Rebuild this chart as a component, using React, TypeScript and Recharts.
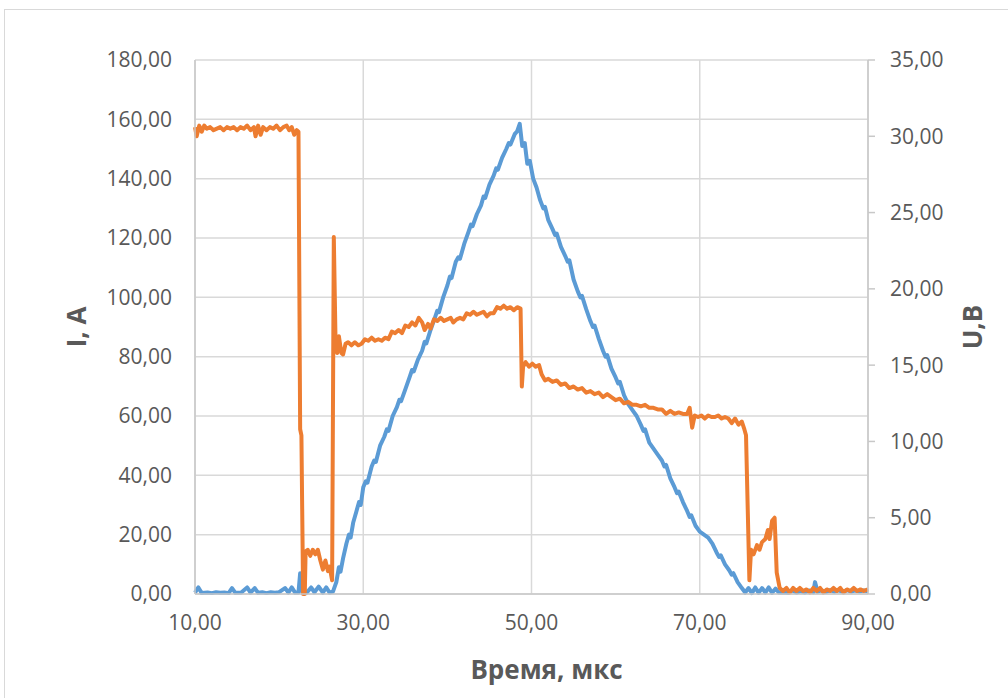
import { LineChart, Line, XAxis, YAxis, CartesianGrid, Label } from 'recharts';

// time (мкс), current (A) — left axis
const currentPts: [number, number][] = [
  [10, 0.5], [10.4, 2.2], [10.8, 0.3], [11.5, 0.5], [12, 0.3], [12.5, 0.6], [13, 0.4], [13.5, 0.5],
  [14, 0.3], [14.4, 2.0], [14.8, 0.4], [15.5, 0.5], [16.2, 2.2], [16.6, 0.5], [17.1, 2.0], [17.5, 0.4],
  [18, 0.6], [18.5, 0.3], [19, 0.6], [19.5, 0.4], [20, 0.6], [20.7, 2.0], [21.1, 0.5], [21.5, 2.2],
  [21.9, 0.5], [22.3, 0.5], [22.5, 7.0], [22.8, 0.4], [23.3, 0.5], [23.8, 2.2], [24.2, 0.6], [24.7, 2.5],
  [25.2, 0.5], [25.6, 2.2], [26.0, 0.5], [26.4, 0.8], [26.8, 4], [27.1, 9], [27.3, 7.5], [27.6, 12],
  [28, 17], [28.3, 20], [28.5, 19], [28.8, 24], [29.2, 28], [29.5, 31], [29.7, 30], [30, 36], [30.3, 38],
  [30.5, 37.5], [31, 43], [31.3, 45], [31.5, 44.5], [32, 50], [32.5, 53], [32.8, 55.5], [33, 55],
  [33.5, 60], [34, 63], [34.3, 65.5], [34.5, 65], [35, 69], [35.5, 73], [35.8, 75.5], [36, 75], [36.5, 79],
  [37, 82], [37.3, 85], [37.5, 84.5], [38, 89], [38.5, 93], [38.8, 95.5], [39, 95], [39.5, 100],
  [40, 104], [40.3, 107], [40.5, 106.5], [41, 112], [41.3, 113.5], [41.5, 113], [42, 118], [42.5, 122],
  [42.8, 124.5], [43, 124], [43.5, 128], [44, 131], [44.3, 134], [44.5, 133.5], [45, 138], [45.5, 141],
  [45.8, 143.5], [46, 143], [46.5, 147], [47, 150], [47.3, 152], [47.5, 151.5], [48, 155], [48.3, 156],
  [48.6, 158.5], [48.9, 151], [49.2, 152], [49.5, 145], [49.8, 146], [50.2, 140], [50.6, 137], [51, 133],
  [51.4, 130], [51.6, 130.5], [52, 126], [52.5, 123], [52.8, 121], [53, 121.5], [53.5, 117], [54, 114],
  [54.3, 112], [54.5, 112.5], [55, 106], [55.5, 102], [55.8, 100], [56, 100.5], [56.5, 96], [57, 92],
  [57.3, 90], [57.5, 90.5], [58, 86], [58.5, 82], [58.8, 80], [59, 80.5], [59.5, 76], [60, 73],
  [60.3, 71], [60.5, 71.5], [61, 67], [61.5, 64], [62, 62], [62.5, 60], [63, 57], [63.3, 55], [63.5, 55.5],
  [64, 51], [64.5, 49], [65, 47], [65.5, 45], [65.8, 43], [66, 43.5], [66.5, 39], [67, 36], [67.3, 34],
  [67.5, 34.5], [68, 31], [68.5, 28], [68.8, 26], [69, 26.5], [69.5, 23], [70, 21], [70.5, 20], [71, 19],
  [71.5, 17], [72, 14], [72.3, 12.5], [72.5, 13], [73, 10], [73.5, 8], [73.8, 6.5], [74, 7], [74.5, 4],
  [75, 2], [75.4, 0.5], [75.8, 2.0], [76.2, 0.3], [76.6, 2.2], [77, 0.4], [77.4, 2.0], [77.8, 0.5],
  [78.2, 2.2], [78.6, 0.4], [79, 1.8], [79.4, 0.5], [80, 0.6], [80.5, 0.4], [81, 1.2], [81.5, 0.5],
  [82, 1.0], [82.5, 0.5], [83, 1.2], [83.5, 0.6], [83.7, 4.0], [84, 0.8], [84.5, 1.2], [85, 0.7],
  [85.5, 1.3], [86, 0.8], [86.5, 1.2], [87, 0.7], [87.5, 1.3], [88, 0.8], [88.5, 1.2], [89, 0.9],
  [89.5, 1.2], [90, 0.9],
];

// time (мкс), voltage (B) — right axis
const voltagePts: [number, number][] = [
  [10, 30.6], [10.2, 30.0], [10.5, 30.7], [10.8, 30.3], [11.1, 30.7], [11.4, 30.5], [11.8, 30.6],
  [12.2, 30.4], [12.6, 30.5], [13, 30.6], [13.4, 30.4], [13.8, 30.6], [14.2, 30.5], [14.6, 30.6],
  [15, 30.4], [15.4, 30.6], [15.8, 30.5], [16.2, 30.7], [16.6, 30.4], [17, 30.6], [17.2, 30.0],
  [17.5, 30.7], [17.8, 30.1], [18.1, 30.6], [18.5, 30.4], [18.9, 30.6], [19.3, 30.5], [19.7, 30.7],
  [20.1, 30.4], [20.5, 30.6], [20.9, 30.7], [21.2, 30.4], [21.5, 30.6], [21.8, 30.1], [22.1, 30.4],
  [22.3, 30.3], [22.5, 10.8], [22.65, 10.4], [22.85, 0], [23.05, 0], [23.15, 2.8], [23.4, 2.9],
  [23.7, 2.5], [24.0, 2.9], [24.3, 2.6], [24.6, 2.9], [24.9, 2.2], [25.2, 1.6], [25.5, 2.2], [25.8, 1.5],
  [26.0, 1.8], [26.3, 0.9], [26.5, 23.4], [26.7, 16.8], [26.9, 15.8], [27.1, 16.9], [27.4, 15.8],
  [27.6, 15.7], [27.9, 16.4], [28.2, 16.5], [28.6, 16.3], [29, 16.5], [29.4, 16.3], [29.8, 16.4],
  [30.2, 16.7], [30.6, 16.6], [31, 16.8], [31.4, 16.6], [31.8, 16.7], [32.2, 16.6], [32.6, 16.8],
  [33, 16.7], [33.4, 17.2], [33.8, 17.1], [34.2, 17.3], [34.6, 17.1], [35, 17.6], [35.4, 17.5],
  [35.8, 17.8], [36.2, 17.6], [36.6, 18.1], [37, 17.8], [37.3, 17.3], [37.7, 17.7], [38, 17.4],
  [38.4, 18.0], [38.8, 17.9], [39.2, 18.1], [39.6, 17.9], [40, 18.0], [40.4, 18.1], [40.7, 17.8],
  [41.1, 18.0], [41.5, 18.1], [41.9, 18.0], [42.3, 18.4], [42.7, 18.3], [43.1, 18.5], [43.5, 18.3],
  [43.9, 18.4], [44.3, 18.5], [44.7, 18.2], [45.1, 18.4], [45.5, 18.4], [45.9, 18.8], [46.3, 18.7],
  [46.7, 18.9], [47.1, 18.7], [47.5, 18.8], [47.9, 18.6], [48.3, 18.8], [48.7, 18.7], [48.85, 13.6],
  [49.0, 14.9], [49.3, 15.2], [49.7, 14.9], [50.1, 15.1], [50.5, 14.9], [50.9, 15.0], [51.2, 14.4],
  [51.6, 14.0], [52, 14.1], [52.5, 13.9], [53, 14.0], [53.5, 13.7], [54, 13.8], [54.5, 13.5], [55, 13.6],
  [55.5, 13.4], [56, 13.5], [56.5, 13.2], [57, 13.3], [57.5, 13.1], [58, 13.2], [58.5, 12.9], [59, 13.1],
  [59.5, 12.9], [60, 12.7], [60.5, 12.8], [61, 12.5], [61.5, 12.6], [62, 12.4], [62.5, 12.4], [63, 12.3],
  [63.5, 12.4], [64, 12.2], [64.5, 12.2], [65, 12.1], [65.5, 12.1], [66, 11.8], [66.5, 12.0], [67, 11.8],
  [67.5, 11.9], [68, 11.8], [68.5, 11.8], [68.8, 12.2], [69.1, 10.9], [69.4, 11.7], [69.8, 11.6],
  [70.2, 11.7], [70.6, 11.5], [71, 11.7], [71.4, 11.6], [71.8, 11.6], [72.2, 11.7], [72.6, 11.5],
  [73, 11.6], [73.4, 11.5], [73.8, 11.2], [74.2, 11.5], [74.6, 11.1], [75, 11.3], [75.3, 10.8],
  [75.5, 10.4], [75.9, 0.9], [76.1, 2.9], [76.4, 2.6], [76.8, 3.2], [77.1, 2.9], [77.4, 3.4], [77.8, 3.6],
  [78.1, 4.2], [78.3, 3.6], [78.6, 4.8], [78.9, 5.0], [79.15, 1.4], [79.5, 0.4], [79.9, 0.2], [80.3, 0.4],
  [80.7, 0.1], [81.1, 0.4], [81.5, 0.2], [81.9, 0.4], [82.3, 0.2], [82.7, 0.3], [83.1, 0.1], [83.5, 0.4],
  [83.9, 0.2], [84.3, 0.4], [84.7, 0.1], [85.1, 0.3], [85.5, 0.2], [85.9, 0.4], [86.3, 0.2], [86.7, 0.4],
  [87.1, 0.1], [87.5, 0.3], [87.9, 0.2], [88.3, 0.4], [88.7, 0.2], [89.1, 0.3], [89.5, 0.2], [90, 0.3],
];

const xTicks = [10, 30, 50, 70, 90];
const currentTicks = [0, 20, 40, 60, 80, 100, 120, 140, 160, 180];
const voltageTicks = [0, 5, 10, 15, 20, 25, 30, 35];

const FONT = '"Open Sans", "Noto Sans", sans-serif';
const tickStyle = { fill: '#595959', fontSize: 21, fontFamily: FONT };
const titleStyle = { fill: '#595959', fontSize: 26, fontWeight: 700, fontFamily: FONT };
const fmt = (v: number) => v.toFixed(2).replace('.', ',');

const currentData = currentPts.map(([t, i]) => ({ t, i }));
const voltageData = voltagePts.map(([t, u]) => ({ t, u }));

export default function App() {
  return (
    <div style={{ position: 'absolute', left: 0, top: 0, width: 1008, height: 698, background: '#fff' }}>
      <div style={{ position: 'absolute', left: 4, top: 9, width: 1020, height: 700, border: '1.5px solid #d9d9d9' }} />
      <LineChart width={1008} height={698} margin={{ top: 60, right: 0, bottom: 0, left: 0 }} style={{ position: 'absolute', left: 0, top: 0 }}>
        <CartesianGrid yAxisId="left" stroke="#d9d9d9" strokeWidth={1.5} />
        <XAxis
          type="number"
          dataKey="t"
          domain={[10, 90]}
          ticks={xTicks}
          tickFormatter={fmt}
          height={104}
          tickLine={false}
          tickSize={0}
          tickMargin={21}
          stroke="#c8c8c8"
          strokeWidth={1.5}
          tick={tickStyle}
          allowDuplicatedCategory={false}
        >
          <Label
            content={({ viewBox }: any) => (
              <text x={viewBox.x + viewBox.width / 2 + 15} y={viewBox.y + 85} textAnchor="middle" style={titleStyle}>
                Время, мкс
              </text>
            )}
          />
        </XAxis>
        <YAxis
          yAxisId="left"
          width={195}
          domain={[0, 180]}
          ticks={currentTicks}
          tickFormatter={fmt}
          tickLine={false}
          tickSize={0}
          tickMargin={23}
          stroke="#c8c8c8"
          strokeWidth={1.5}
          tick={tickStyle}
        >
          <Label
            content={({ viewBox }: any) => {
              const cx = viewBox.x + 77;
              const cy = viewBox.y + viewBox.height / 2;
              return (
                <text x={cx} y={cy} dy={9} textAnchor="middle" transform={`rotate(-90 ${cx} ${cy})`} style={titleStyle}>
                  I, A
                </text>
              );
            }}
          />
        </YAxis>
        <YAxis
          yAxisId="right"
          orientation="right"
          width={140}
          domain={[0, 35]}
          ticks={voltageTicks}
          tickFormatter={fmt}
          tickSize={7}
          tickMargin={15}
          tickLine={{ stroke: '#c8c8c8', strokeWidth: 1.5 }}
          stroke="#c8c8c8"
          strokeWidth={1.5}
          tick={tickStyle}
        >
          <Label
            content={({ viewBox }: any) => {
              const cx = viewBox.x + 105;
              const cy = viewBox.y + viewBox.height / 2;
              return (
                <text x={cx} y={cy} dy={9} textAnchor="middle" transform={`rotate(-90 ${cx} ${cy})`} style={titleStyle}>
                  U,B
                </text>
              );
            }}
          />
        </YAxis>
        <Line
          yAxisId="left"
          data={currentData}
          dataKey="i"
          type="linear"
          stroke="#5B9BD5"
          strokeWidth={4}
          strokeLinejoin="round"
          dot={false}
          activeDot={false}
          isAnimationActive={false}
        />
        <Line
          yAxisId="right"
          data={voltageData}
          dataKey="u"
          type="linear"
          stroke="#ED7D31"
          strokeWidth={4}
          strokeLinejoin="round"
          dot={false}
          activeDot={false}
          isAnimationActive={false}
        />
      </LineChart>
    </div>
  );
}
